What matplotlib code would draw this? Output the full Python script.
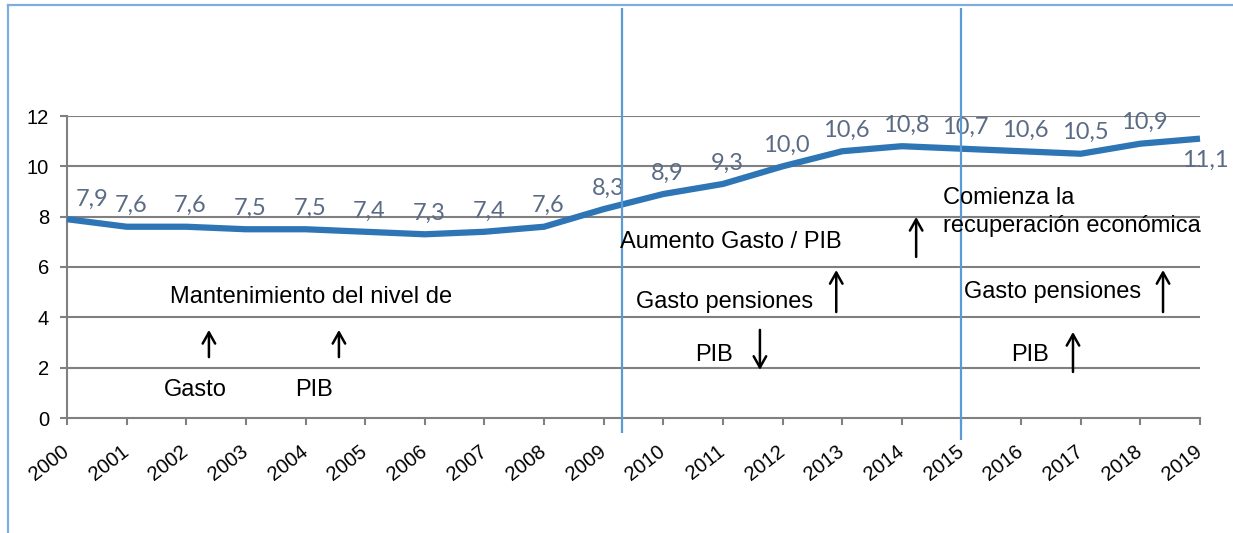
import matplotlib
matplotlib.use("Agg")
import matplotlib.pyplot as plt
from matplotlib.lines import Line2D
from matplotlib.transforms import ScaledTranslation

years = list(range(2000, 2020))
gasto_pib = [7.9, 7.6, 7.6, 7.5, 7.5, 7.4, 7.3, 7.4, 7.6, 8.3,
             8.9, 9.3, 10.0, 10.6, 10.8, 10.7, 10.6, 10.5, 10.9, 11.1]
value_labels = ["7,9", "7,6", "7,6", "7,5", "7,5", "7,4", "7,3", "7,4", "7,6", "8,3",
                "8,9", "9,3", "10,0", "10,6", "10,8", "10,7", "10,6", "10,5", "10,9", "11,1"]
y_ticks = [0, 2, 4, 6, 8, 10, 12]
period_breaks = [2009.31, 2015.0]

LINE_BLUE = "#2e75b6"
LABEL_COL = "#5b6b85"
GRID_COL = "#808080"
VLINE_COL = "#5b9bd5"
FRAME_COL = "#7eaee0"
FONT = ["Liberation Sans", "DejaVu Sans"]

plt.rcParams["font.family"] = FONT

fig = plt.figure(figsize=(12.33, 5.33), dpi=100)
ax = fig.add_axes([67/1233, 1-418/533, (1200-67)/1233, (418-116)/533])

ax.set_xlim(2000, 2019)
ax.set_ylim(0, 12)
ax.tick_params(axis="both", colors=GRID_COL, labelcolor="black",
               width=1.5, length=5)
ax.tick_params(axis="x", pad=7)
ax.tick_params(axis="y", pad=8)
ax.set_yticks(y_ticks)
ax.set_yticklabels([str(y) for y in y_ticks], fontsize=14.5)
ax.set_xticks(years)
ax.set_xticklabels([str(y) for y in years], rotation=38, ha="right",
                   rotation_mode="anchor", va="top", fontsize=14.5)
shift = ScaledTranslation(-6/100, -7/100, fig.dpi_scale_trans)
for lab in ax.get_xticklabels():
    lab.set_transform(lab.get_transform() + shift)

for y in y_ticks[1:]:
    ax.axhline(y, color=GRID_COL, lw=1.5, zorder=1)
for s in ["top", "right"]:
    ax.spines[s].set_visible(False)
for s in ["left", "bottom"]:
    ax.spines[s].set_color(GRID_COL)
    ax.spines[s].set_linewidth(1.5)

ax.plot(years, gasto_pib, color=LINE_BLUE, lw=4.5, solid_capstyle="butt",
        solid_joinstyle="round", zorder=3, clip_on=False)

for i, (x, v, lab) in enumerate(zip(years, gasto_pib, value_labels)):
    if i == 0:
        off, ha, va = (18, 7), "center", "bottom"
    elif i == len(years) - 1:
        off, ha, va = (4, -8), "center", "top"
    else:
        off, ha, va = (3, 7.5), "center", "bottom"
    ax.annotate(lab, (x, v), xytext=off, textcoords="offset points",
                ha=ha, va=va, color=LABEL_COL, fontsize=17,
                family=["Lato", "DejaVu Sans"], annotation_clip=False, zorder=4)

# period separators
ax.vlines(period_breaks[0], -0.6, 16.29, color=VLINE_COL, lw=1.6, clip_on=False, zorder=5)
ax.vlines(period_breaks[1], -0.87, 16.29, color=VLINE_COL, lw=1.6, clip_on=False, zorder=5)

fs = 17
def txt(x, y, s, ha="left"):
    ax.text(x, y, s, ha=ha, va="center", fontsize=fs, color="black", zorder=6)

def arrow(x, y0, y1):
    ax.annotate("", xy=(x, y1), xytext=(x, y0),
                arrowprops=dict(arrowstyle="->,head_length=0.8,head_width=0.45",
                                color="black", lw=1.8, shrinkA=0, shrinkB=0),
                annotation_clip=False, zorder=6)

txt(2004.09, 4.81, "Mantenimiento del nivel de", ha="center")
txt(2002.15, 1.11, "Gasto", ha="center")
txt(2004.14, 1.11, "PIB", ha="center")
arrow(2002.38, 2.42, 3.50)
arrow(2004.56, 2.42, 3.50)

txt(2009.27, 6.99, "Aumento Gasto / PIB")
arrow(2014.24, 6.40, 7.99)
txt(2009.54, 4.61, "Gasto pensiones")
arrow(2012.90, 4.21, 5.88)
txt(2010.53, 2.50, "PIB")
arrow(2011.62, 3.50, 1.91)

txt(2014.69, 8.74, "Comienza la")
txt(2014.69, 7.63, "recuperación económica")
txt(2015.04, 5.01, "Gasto pensiones")
arrow(2018.38, 4.21, 5.88)
txt(2015.83, 2.50, "PIB")
arrow(2016.87, 1.83, 3.42)

# outer frame (left and top)
fig.add_artist(Line2D([8/1233, 8/1233], [0, 1-5/533], color=FRAME_COL, lw=1.6))
fig.add_artist(Line2D([8/1233, 1], [1-5/533, 1-5/533], color=FRAME_COL, lw=1.6))

fig.savefig("out.png", dpi=100)
